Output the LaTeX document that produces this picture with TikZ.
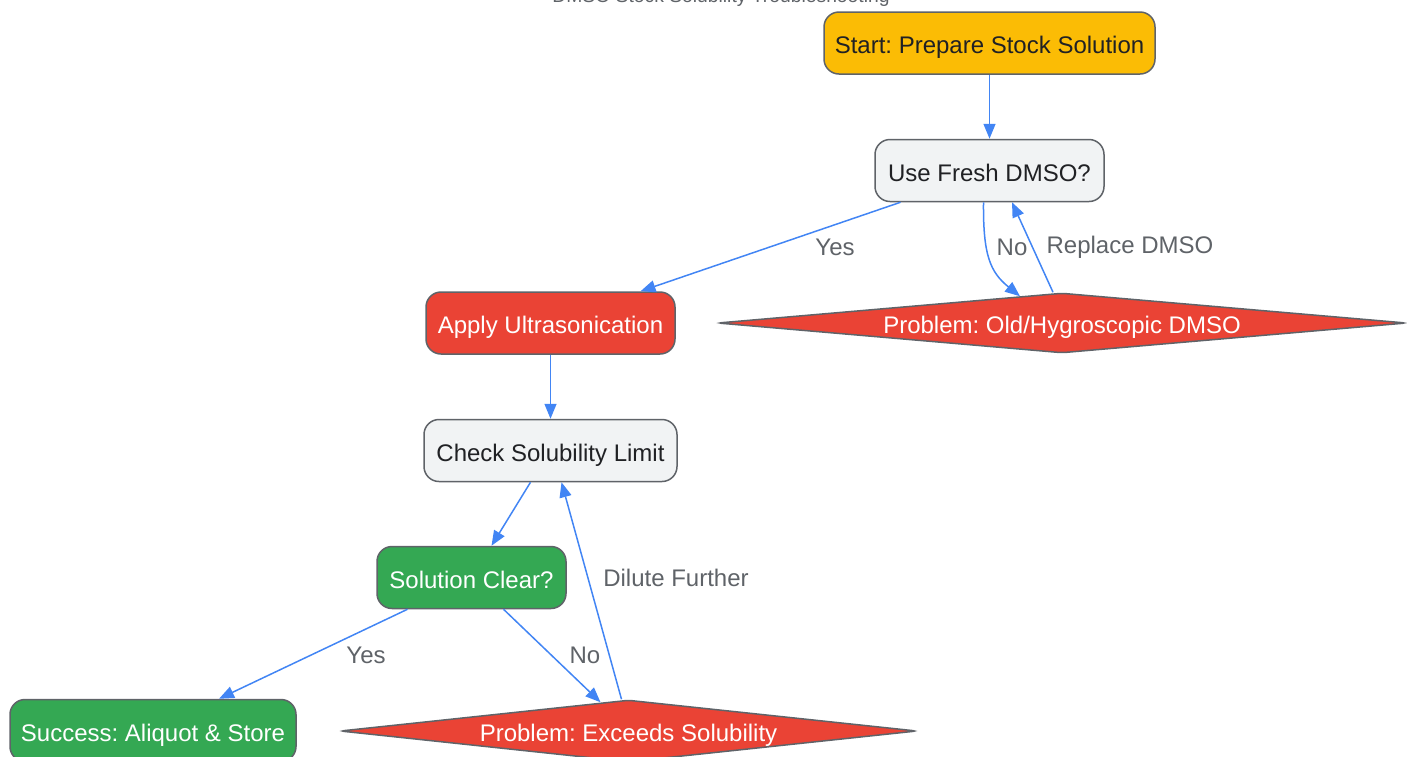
\documentclass[tikz,border=0pt]{standalone}
\usepackage{fontspec}
\setmainfont{Liberation Sans}
\usetikzlibrary{arrows.meta,shapes.geometric,calc}
\definecolor{cyellow}{HTML}{FBBC05}
\definecolor{cred}{HTML}{EA4335}
\definecolor{cgreen}{HTML}{34A853}
\definecolor{cgrey}{HTML}{F1F3F4}
\definecolor{cborder}{HTML}{5F6368}
\definecolor{cedge}{HTML}{4285F4}
\definecolor{clabel}{HTML}{5F6368}
\definecolor{ctext}{HTML}{202124}
\frenchspacing
\begin{document}
\begin{tikzpicture}[x=1pt,y=-1pt,
  box/.style={draw=cborder, line width=1.5pt, rounded corners=15pt, inner sep=0pt,
    font=\fontsize{24}{28}\selectfont, minimum height=62pt, text height=21.5pt, text depth=0pt},
  dia/.style={diamond, draw=cborder, line width=1.5pt, rounded corners=4pt, inner sep=0pt,
    font=\fontsize{24}{28}\selectfont, fill=cred, text=white, text height=21.5pt, text depth=0pt},
  edge/.style={draw=cedge, line width=1.5pt, -{Triangle[length=15pt,width=12pt]}},
  lbl/.style={text=clabel, font=\fontsize{24}{28}\selectfont, inner sep=0pt},
  ttl/.style={text=clabel, font=\fontsize{19.3}{22}\selectfont, inner sep=0pt, anchor=base}
]
\useasboundingbox (0,0) rectangle (1407,756);
\clip (0,0) rectangle (1407,756);
% title (cut off at the top)
\node[ttl] (title) at (721,2) {DMSO Stock Solubility Troubleshooting};
% nodes
\node[box, fill=cyellow, text=ctext, minimum width=331pt] (start) at (989.5,43) {Start: Prepare Stock Solution};
\node[box, fill=cgrey, text=ctext, minimum width=229pt] (fresh) at (989.5,170.5) {Use Fresh DMSO?};
\node[box, fill=cred, text=white, minimum width=249pt] (ultra) at (550.5,323) {Apply Ultrasonication};
\node[dia, aspect=11.5, minimum width=689pt, minimum height=60pt] (p1) at (1062,323) {Problem: Old/Hygroscopic DMSO};
\node[box, fill=cgrey, text=ctext, minimum width=253pt] (check) at (550.5,450.5) {Check Solubility Limit};
\node[box, fill=cgreen, text=white, minimum width=189pt] (clear) at (471.5,577.5) {Solution Clear?};
\node[box, fill=cgreen, text=white, minimum width=286pt] (succ) at (153,730.5) {Success: Aliquot \& Store};
\node[dia, aspect=9.3, minimum width=577pt, minimum height=62pt] (p2) at (628.5,731) {Problem: Exceeds Solubility};
% edges
\draw[edge] (start) -- (fresh);
\draw[edge] ([xshift=-89pt]fresh.south) -- ([xshift=90pt]ultra.north);
\draw[edge] ([xshift=-6pt]fresh.south) .. controls (983,255) and (990,272) .. ($(p1.north)+(-42,4)$);
\draw[edge] ([xshift=-9pt]p1.north) -- ([xshift=22.5pt]fresh.south);
\draw[edge] (ultra) -- (check);
\draw[edge] ([xshift=-20pt]check.south) -- ([xshift=20pt]clear.north);
\draw[edge] ([xshift=-64pt]clear.south) -- ([xshift=66pt]succ.north);
\draw[edge] ([xshift=32pt]clear.south) -- ($(p2.north)+(-28,3)$);
\draw[edge] ([xshift=-7pt]p2.north) -- ([xshift=11pt]check.south);
% labels
\node[lbl] (l1) at (835,247) {Yes};
\node[lbl] (l2) at (1012,247) {No};
\node[lbl] (l3) at (1130,247) {Replace DMSO};
\node[lbl] (l4) at (366,655) {Yes};
\node[lbl] (l5) at (585,655) {No};
\node[lbl] (l6) at (676,578) {Dilute Further};
\end{tikzpicture}
\end{document}
